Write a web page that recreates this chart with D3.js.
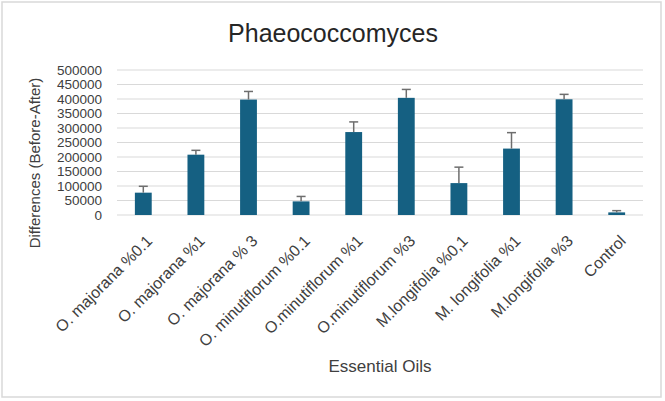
<!DOCTYPE html>
<html>
<head>
<meta charset="utf-8">
<script src="https://cdn.jsdelivr.net/npm/d3@7"></script>
<style>
  body { margin: 0; background: #fff; }
  svg { display: block; font-family: "Liberation Sans", Arial, sans-serif; }
</style>
</head>
<body>
<script>
// chart values
const categories = [
  "O. majorana %0.1", "O. majorana %1", "O. majorana % 3",
  "O. minutiflorum %0.1", "O.minutiflorum %1", "O.minutiflorum %3",
  "M.longifolia %0,1", "M. longifolia %1", "M.longifolia %3", "Control"
];
const differences = [77000, 208000, 398000, 47000, 286000, 404000, 110000, 229000, 399000, 9000];
const errors = [22000, 15000, 28000, 17000, 35000, 29000, 55000, 55000, 17000, 6000];
const yTicks = [0, 50000, 100000, 150000, 200000, 250000, 300000, 350000, 400000, 450000, 500000];

const width = 665, height = 401;
const margin = {left: 117, right: 22, top: 70, bottom: 186};

const svg = d3.select("body").append("svg")
  .attr("width", width)
  .attr("height", height);

// chart border
svg.append("rect")
  .attr("x", 2).attr("y", 2)
  .attr("width", 659).attr("height", 395)
  .attr("fill", "#fff")
  .attr("stroke", "#d9d9d9")
  .attr("stroke-width", 1.5);

let x = d3.scaleBand()
  .domain(categories)
  .range([margin.left, width - margin.right])
  .paddingInner(0.68)
  .paddingOuter(0.34);

let y = d3.scaleLinear()
  .domain([0, 500000])
  .range([height - margin.bottom, margin.top]);

// gridlines
svg.append("g")
  .selectAll("line")
  .data(yTicks)
  .join("line")
  .attr("x1", margin.left)
  .attr("x2", width - margin.right)
  .attr("y1", d => y(d))
  .attr("y2", d => y(d))
  .attr("stroke", "#d9d9d9")
  .attr("stroke-width", 1);

// y axis labels
let yAxis = svg.append("g")
  .attr("transform", `translate(${margin.left},0)`)
  .call(d3.axisLeft(y).tickValues(yTicks).tickFormat(d3.format("d")).tickSize(0).tickPadding(15));
yAxis.select(".domain").remove();
yAxis.selectAll("text")
  .attr("font-size", 13.5)
  .attr("fill", "#404040")
  .attr("font-family", "Liberation Sans, Arial, sans-serif");

// bars
svg.append("g")
  .selectAll("rect")
  .data(categories)
  .join("rect")
  .attr("x", d => x(d))
  .attr("width", x.bandwidth())
  .attr("y", (d, i) => y(differences[i]))
  .attr("height", (d, i) => y(0) - y(differences[i]))
  .attr("fill", "#156082");

// error bars (plus only)
let errG = svg.append("g")
  .attr("stroke", "#6e6e6e")
  .attr("stroke-width", 1.5);
categories.forEach(function(c, i) {
  let cx = x(c) + x.bandwidth() / 2;
  errG.append("line")
    .attr("x1", cx).attr("x2", cx)
    .attr("y1", y(differences[i]))
    .attr("y2", y(differences[i] + errors[i]));
  errG.append("line")
    .attr("x1", cx - 4.5).attr("x2", cx + 4.5)
    .attr("y1", y(differences[i] + errors[i]))
    .attr("y2", y(differences[i] + errors[i]));
});

// rotated category labels
svg.append("g")
  .selectAll("text")
  .data(categories)
  .join("text")
  .attr("transform", d => `translate(${x(d) + x.bandwidth() / 2 + 10},${y(0) + 27}) rotate(-45)`)
  .attr("text-anchor", "end")
  .attr("font-size", 16)
  .attr("fill", "#404040")
  .text(d => d);

// title
svg.append("text")
  .attr("x", 333)
  .attr("y", 42)
  .attr("text-anchor", "middle")
  .attr("font-size", 25)
  .attr("fill", "#262626")
  .text("Phaeococcomyces");

// axis titles
svg.append("text")
  .attr("x", 380)
  .attr("y", 372)
  .attr("text-anchor", "middle")
  .attr("font-size", 17)
  .attr("fill", "#404040")
  .text("Essential Oils");

svg.append("text")
  .attr("transform", "translate(40,163) rotate(-90)")
  .attr("text-anchor", "middle")
  .attr("font-size", 15)
  .attr("fill", "#404040")
  .text("Differences (Before-After)");
</script>
</body>
</html>
